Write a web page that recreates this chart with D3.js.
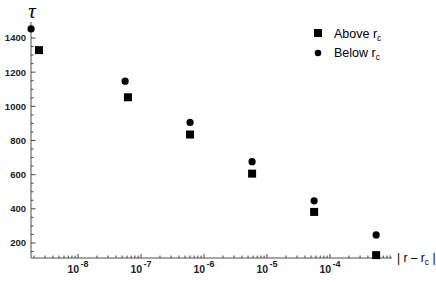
<!DOCTYPE html>
<html><head><meta charset="utf-8">
<script src="https://cdn.jsdelivr.net/npm/d3@7"></script>
<style>body{margin:0;background:#fff}svg{display:block}</style>
</head><body>
<svg id="c" width="436" height="282"></svg>
<script>
const aboveX = [2.4e-9, 6.2e-8, 6.0e-7, 5.8e-6, 5.6e-5, 5.4e-4];
const aboveY = [1329, 1053, 835, 606, 382, 129];
const belowX = [1.8e-9, 5.6e-8, 6.0e-7, 5.8e-6, 5.6e-5, 5.4e-4];
const belowY = [1453, 1147, 906, 676, 447, 247];
const yTicks = [200, 400, 600, 800, 1000, 1200, 1400];
const xTickExps = [-8, -7, -6, -5, -4];
const legendLabels = ["Above r", "Below r"];

const svg = d3.select("#c");
const axisColor = "#8a8a8a";
const font = "'Liberation Sans', Arial, sans-serif";

const y = d3.scaleLinear().domain([200, 1400]).range([243, 38]);
const x = d3.scaleLog().domain([1e-8, 1e-4]).range([78, 330]);
const xMin = x.invert(31), xMax = x.invert(392);
const yMin = y.invert(258), yMax = y.invert(22);

svg.append("line").attr("x1", x(xMin)).attr("x2", x(xMax)).attr("y1", y(yMin)).attr("y2", y(yMin))
  .attr("stroke", axisColor).attr("stroke-width", 1.5);
svg.append("line").attr("x1", x(xMin)).attr("x2", x(xMin)).attr("y1", y(yMin)).attr("y2", y(yMax))
  .attr("stroke", axisColor).attr("stroke-width", 1.5);

const x0 = x(xMin), y0 = y(yMin);
const yMinor = d3.range(150, 1500, 50).filter(v => v > yMin && v < yMax && !yTicks.includes(v));
svg.selectAll(".ymin").data(yMinor).enter().append("line")
  .attr("x1", x0).attr("x2", x0 + 2.5).attr("y1", d => y(d)).attr("y2", d => y(d))
  .attr("stroke", "#444").attr("stroke-width", 1);
svg.selectAll(".ymaj").data(yTicks).enter().append("line")
  .attr("x1", x0).attr("x2", x0 + 4.5).attr("y1", d => y(d)).attr("y2", d => y(d))
  .attr("stroke", "#444").attr("stroke-width", 1);
svg.selectAll(".ylab").data(yTicks).enter().append("text")
  .attr("x", x0 - 5).attr("y", d => y(d)).attr("dy", "0.36em")
  .attr("text-anchor", "end").attr("font-family", font).attr("font-size", 9.5)
  .attr("font-weight", "bold").attr("fill", "#222").text(d => d);

const xMinorVals = [];
for (let e = -9; e <= -4; e++) for (let m = 2; m <= 9; m++) {
  const v = m * Math.pow(10, e);
  if (v > xMin && v < xMax) xMinorVals.push(v);
}
svg.selectAll(".xmin").data(xMinorVals).enter().append("line")
  .attr("x1", d => x(d)).attr("x2", d => x(d)).attr("y1", y0).attr("y2", y0 - 2.5)
  .attr("stroke", "#444").attr("stroke-width", 1);
svg.selectAll(".xmaj").data(xTickExps).enter().append("line")
  .attr("x1", d => x(Math.pow(10, d))).attr("x2", d => x(Math.pow(10, d))).attr("y1", y0).attr("y2", y0 - 4)
  .attr("stroke", "#444").attr("stroke-width", 1);
const xl = svg.selectAll(".xlab").data(xTickExps).enter().append("text")
  .attr("x", d => x(Math.pow(10, d))).attr("y", 273)
  .attr("text-anchor", "middle").attr("font-family", font).attr("font-size", 10.5)
  .attr("font-weight", "bold").attr("fill", "#222");
xl.append("tspan").text("10");
xl.append("tspan").attr("dy", -6.5).attr("dx", 1.5).attr("font-size", 9).text(d => "-" + Math.abs(d));

const sq = 8;
svg.selectAll(".sq").data(aboveX.map((v, i) => [v, aboveY[i]])).enter().append("rect")
  .attr("x", d => x(d[0]) - sq / 2).attr("y", d => y(d[1]) - sq / 2)
  .attr("width", sq).attr("height", sq).attr("fill", "#000");
svg.selectAll(".ci").data(belowX.map((v, i) => [v, belowY[i]])).enter().append("circle")
  .attr("cx", d => x(d[0])).attr("cy", d => y(d[1])).attr("r", 3.6).attr("fill", "#000");

svg.append("text").attr("x", 32).attr("y", 18).attr("text-anchor", "middle")
  .attr("font-family", "'Liberation Serif', 'Times New Roman', serif").attr("font-style", "italic")
  .attr("font-size", 21).attr("fill", "#000").text("τ");
const xlab = svg.append("text").attr("x", 397).attr("y", 262)
  .attr("font-family", font).attr("font-size", 12).attr("fill", "#000");
xlab.append("tspan").text("| r \u2013 r");
xlab.append("tspan").attr("dy", 2.5).attr("font-size", 8.5).text("c");
xlab.append("tspan").attr("dy", -2.5).text(" |");

const leg = svg.append("g");
leg.append("rect").attr("x", 318 - 4).attr("y", 33 - 4).attr("width", 8).attr("height", 8).attr("fill", "#000");
leg.append("circle").attr("cx", 318).attr("cy", 53).attr("r", 3.3).attr("fill", "#000");
[38, 57].forEach((yy, i) => {
  const t = leg.append("text").attr("x", 334).attr("y", yy).attr("font-family", font)
    .attr("font-size", 12.5).attr("fill", "#000");
  t.append("tspan").text(legendLabels[i]);
  t.append("tspan").attr("dy", 2.5).attr("font-size", 8.5).text("c");
});
</script>
</body></html>
